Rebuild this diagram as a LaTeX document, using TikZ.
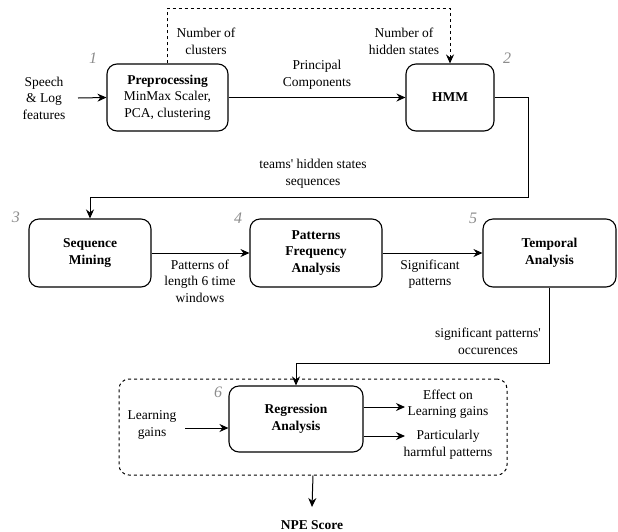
\documentclass[tikz,border=0pt]{standalone}
\usepackage{fontspec}
\setmainfont{Liberation Serif}[Ligatures=TeXOff]
\usetikzlibrary{arrows.meta}
\begin{document}
\begin{tikzpicture}[x=1pt,y=-1pt,
 font=\fontsize{13.5}{16.6}\selectfont,
 box/.style={draw, rounded corners=10pt, line width=1.1pt, align=center, inner sep=0pt},
 lbl/.style={align=center, inner sep=0pt},
 num/.style={inner sep=0pt, font=\fontsize{16}{18}\selectfont\itshape, text=black!45},
 arr/.style={-{Stealth[length=9pt,width=8pt]}, line width=1pt},
 dsh/.style={dash pattern=on 3pt off 3pt, line width=1pt},
]
\useasboundingbox (0,0) rectangle (618,531);

% boxes
\node[box, minimum width=121pt, minimum height=67pt] (pre) at (167.5,97.5) {\textbf{Preprocessing}\\MinMax Scaler,\\PCA, clustering};
\node[box, minimum width=88pt, minimum height=67pt] (hmm) at (450,97.5) {\textbf{HMM}};
\node[box, minimum width=122pt, minimum height=68pt] (sm) at (90,253) {\textbf{Sequence}\\\textbf{Mining}};
\node[box, minimum width=132pt, minimum height=68pt] (pfa) at (316,253) {\textbf{Patterns}\\\textbf{Frequency}\\\textbf{Analysis}};
\node[box, minimum width=133pt, minimum height=68pt] (ta) at (549.5,253) {\textbf{Temporal}\\\textbf{Analysis}};
\node[draw, dsh, rounded corners=10pt, minimum width=388pt, minimum height=96pt, inner sep=0pt] (grp) at (313,427) {};
\node[box, minimum width=134pt, minimum height=66pt] (reg) at (296,419) {\textbf{Regression}\\\textbf{Analysis}};

% numbers
\node[num] (n1) at (93,58) {1};
\node[num] (n2) at (507,58) {2};
\node[num] (n3) at (16,217) {3};
\node[num] (n4) at (238,218) {4};
\node[num] (n5) at (473,218) {5};
\node[num] (n6) at (218,392) {6};

% labels
\node[lbl] (speech) at (44,98) {Speech\\\& Log\\features};
\node[lbl] (ncl) at (206,41.5) {Number of\\clusters};
\node[lbl] (nhs) at (404,41.5) {Number of\\hidden states};
\node[lbl] (pc) at (317,74.5) {Principal\\Components};
\node[lbl] (ths) at (313,173.5) {teams' hidden states\\sequences};
\node[lbl] (pol) at (200,281) {Patterns of\\length 6 time\\windows};
\node[lbl] (sp) at (430,274) {Significant\\patterns};
\node[lbl] (spo) at (488,341.5) {significant patterns'\\occurences};
\node[lbl] (lg) at (152,425) {Learning\\gains};
\node[lbl] (eff) at (448,404) {Effect on\\Learning gains};
\node[lbl] (php) at (448,445) {Particularly\\harmful patterns};
\node[lbl] (npe) at (312,525) {\textbf{NPE Score}};

% connectors
\coordinate (sps) at (78,98);
\draw[arr] (sps) -- (pre.west);
\draw[arr] (pre.east) -- (hmm.west);
\draw[arr, dsh] (pre.north) -- ++(0,-55) -| (hmm.north);
\draw[arr] (hmm.east) -| (528,197) -| (sm.north);
\draw[arr] (sm.east) -- (pfa.west);
\draw[arr] (pfa.east) -- (ta.west);
\draw[arr] (ta.south) -- ++(0,76) -| (reg.north);
\coordinate (lgs) at (185,428);
\draw[arr] (lgs) -- (lgs -| reg.west);
\coordinate (e1) at (405,407);
\coordinate (e2) at (405,436);
\draw[arr] (e1 -| reg.east) -- (e1);
\draw[arr] (e2 -| reg.east) -- (e2);
\coordinate (npet) at (312,507);
\draw[arr] (grp.south) -- (npet);
\end{tikzpicture}
\end{document}
